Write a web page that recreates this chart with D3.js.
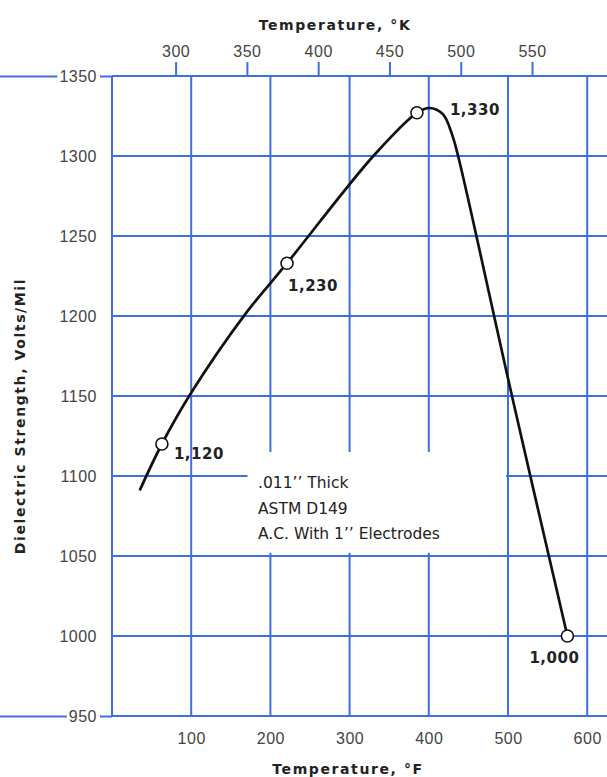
<!DOCTYPE html>
<html>
<head>
<meta charset="utf-8">
<script src="https://cdn.jsdelivr.net/npm/d3@7"></script>
<style>
  body { margin: 0; background: #fff; }
  svg { display: block; font-family: "DejaVu Sans", sans-serif; }
  .tick text { fill: #444; font-size: 16px; letter-spacing: 0.5px; }
  .title { font-size: 14px; font-weight: bold; letter-spacing: 1.6px; fill: #222; }
</style>
</head>
<body>
<svg width="607" height="777"></svg>
<script>
// curve (temperature in F, strength in volts/mil)
var tempF    = [35, 63, 100, 168, 221, 330, 385, 401, 418, 429, 437, 505, 575]
var strength = [1091, 1120, 1152, 1201, 1233, 1300, 1327, 1330, 1326, 1314, 1300, 1150, 1000]

// marked points and their labels
var markF     = [63, 221, 385, 575]
var markVal   = [1120, 1233, 1327, 1000]
var markLabel = ["1,120", "1,230", "1,330", "1,000"]

var yTicks  = [950, 1000, 1050, 1100, 1150, 1200, 1250, 1300, 1350]
var fTicks  = [100, 200, 300, 400, 500, 600]
var kTicks  = [300, 350, 400, 450, 500, 550]
var noteLines = [".011\u2019\u2019 Thick", "ASTM  D149", "A.C. With 1\u2019\u2019 Electrodes"]

var blue = "#3d6fe0"
var svg = d3.select("svg")

var x = d3.scaleLinear().domain([0, 625]).range([112, 607])
var y = d3.scaleLinear().domain([950, 1350]).range([716, 76])
var fToK = function(f) { return (f - 32) * 5 / 9 + 273.15 }
var xK = d3.scaleLinear().domain([fToK(0), fToK(625)]).range([112, 607])

var grid = svg.append("g").attr("id", "grid")

// horizontal grid lines
grid.selectAll("line.h")
    .data(yTicks)
    .enter()
    .append("line")
    .attr("class", "h")
    .attr("x1", x(0)).attr("x2", 607)
    .attr("y1", function(d) { return y(d) })
    .attr("y2", function(d) { return y(d) })
    .attr("stroke", blue).attr("stroke-width", 2)

// vertical grid lines
grid.selectAll("line.v")
    .data([0].concat(fTicks))
    .enter()
    .append("line")
    .attr("class", "v")
    .attr("x1", function(d) { return x(d) })
    .attr("x2", function(d) { return x(d) })
    .attr("y1", y(1350)).attr("y2", y(950))
    .attr("stroke", blue).attr("stroke-width", 2)

// white box behind the note
svg.append("rect")
    .attr("x", x(171)).attr("y", y(1115))
    .attr("width", x(500) - x(171) - 2)
    .attr("height", y(1052) - y(1115))
    .attr("fill", "#fff")

// left axis
var yAxis = d3.axisLeft(y).tickValues(yTicks).tickSize(0).tickPadding(15)
    .tickFormat(d3.format("d"))
var yg = svg.append("g")
    .attr("transform", "translate(" + x(0) + ",0)")
    .call(yAxis)
yg.select(".domain").remove()

// the top and bottom lines run out to the left edge
yg.selectAll(".tick").each(function(d) {
    if (d != 1350 && d != 950) return
    var t = d3.select(this).select("text")
    var w = t.node().getComputedTextLength()
    d3.select(this).insert("line", "text")
        .attr("x1", -x(0)).attr("x2", -15 - w - 2)
        .attr("stroke", blue).attr("stroke-width", 2)
    d3.select(this).insert("line", "text")
        .attr("x1", -12).attr("x2", 0)
        .attr("stroke", blue).attr("stroke-width", 2)
})

// bottom axis, deg F
var xAxis = d3.axisBottom(x).tickValues(fTicks).tickSize(0).tickPadding(17)
var xg = svg.append("g")
    .attr("transform", "translate(0," + y(950) + ")")
    .call(xAxis)
xg.select(".domain").remove()

// top axis, deg K
var kAxis = d3.axisTop(xK).tickValues(kTicks).tickSize(14).tickPadding(5)
var kg = svg.append("g")
    .attr("transform", "translate(0," + y(1350) + ")")
    .call(kAxis)
kg.select(".domain").remove()
kg.selectAll(".tick line").attr("stroke", blue).attr("stroke-width", 2)

// axis titles
svg.append("text")
    .attr("class", "title")
    .attr("x", 335).attr("y", 30)
    .attr("text-anchor", "middle")
    .text("Temperature, \u00b0K")

svg.append("text")
    .attr("class", "title")
    .attr("x", 348).attr("y", 774)
    .attr("text-anchor", "middle")
    .text("Temperature, \u00b0F")

svg.append("text")
    .attr("class", "title")
    .attr("transform", "translate(25,416) rotate(-90)")
    .attr("text-anchor", "middle")
    .text("Dielectric Strength, Volts/Mil")

// the note
svg.append("g")
    .selectAll("text")
    .data(noteLines)
    .enter()
    .append("text")
    .attr("x", 258)
    .attr("y", function(d, i) { return 488 + i * 25.5 })
    .style("font-size", "15.5px").attr("fill", "#222")
    .text(function(d) { return d })

// the curve
var pts = tempF.map(function(f, i) { return [f, strength[i]] })
var line = d3.line()
    .x(function(d) { return x(d[0]) })
    .y(function(d) { return y(d[1]) })
    .curve(d3.curveCatmullRom.alpha(0.5))

svg.append("path")
    .datum(pts)
    .attr("d", line)
    .attr("fill", "none")
    .attr("stroke", "#111")
    .attr("stroke-width", 2.7)

var marks = svg.append("g")
    .selectAll("g")
    .data(markF)
    .enter()
    .append("g")

marks.append("circle")
    .attr("cx", function(d) { return x(d) })
    .attr("cy", function(d, i) { return y(markVal[i]) })
    .attr("r", 6)
    .attr("fill", "#fff")
    .attr("stroke", "#111")
    .attr("stroke-width", 1.6)

// label offsets, as placed in the original
var dx = [12, 1, 33, -13]
var dy = [15, 28, 2, 27]
var anchor = ["start", "start", "start", "middle"]

marks.append("text")
    .attr("x", function(d, i) { return x(d) + dx[i] })
    .attr("y", function(d, i) { return y(markVal[i]) + dy[i] })
    .attr("text-anchor", function(d, i) { return anchor[i] })
    .style("font-size", "15px").style("font-weight", "bold")
    .style("letter-spacing", "0.5px").attr("fill", "#222")
    .text(function(d, i) { return markLabel[i] })
</script>
</body>
</html>
